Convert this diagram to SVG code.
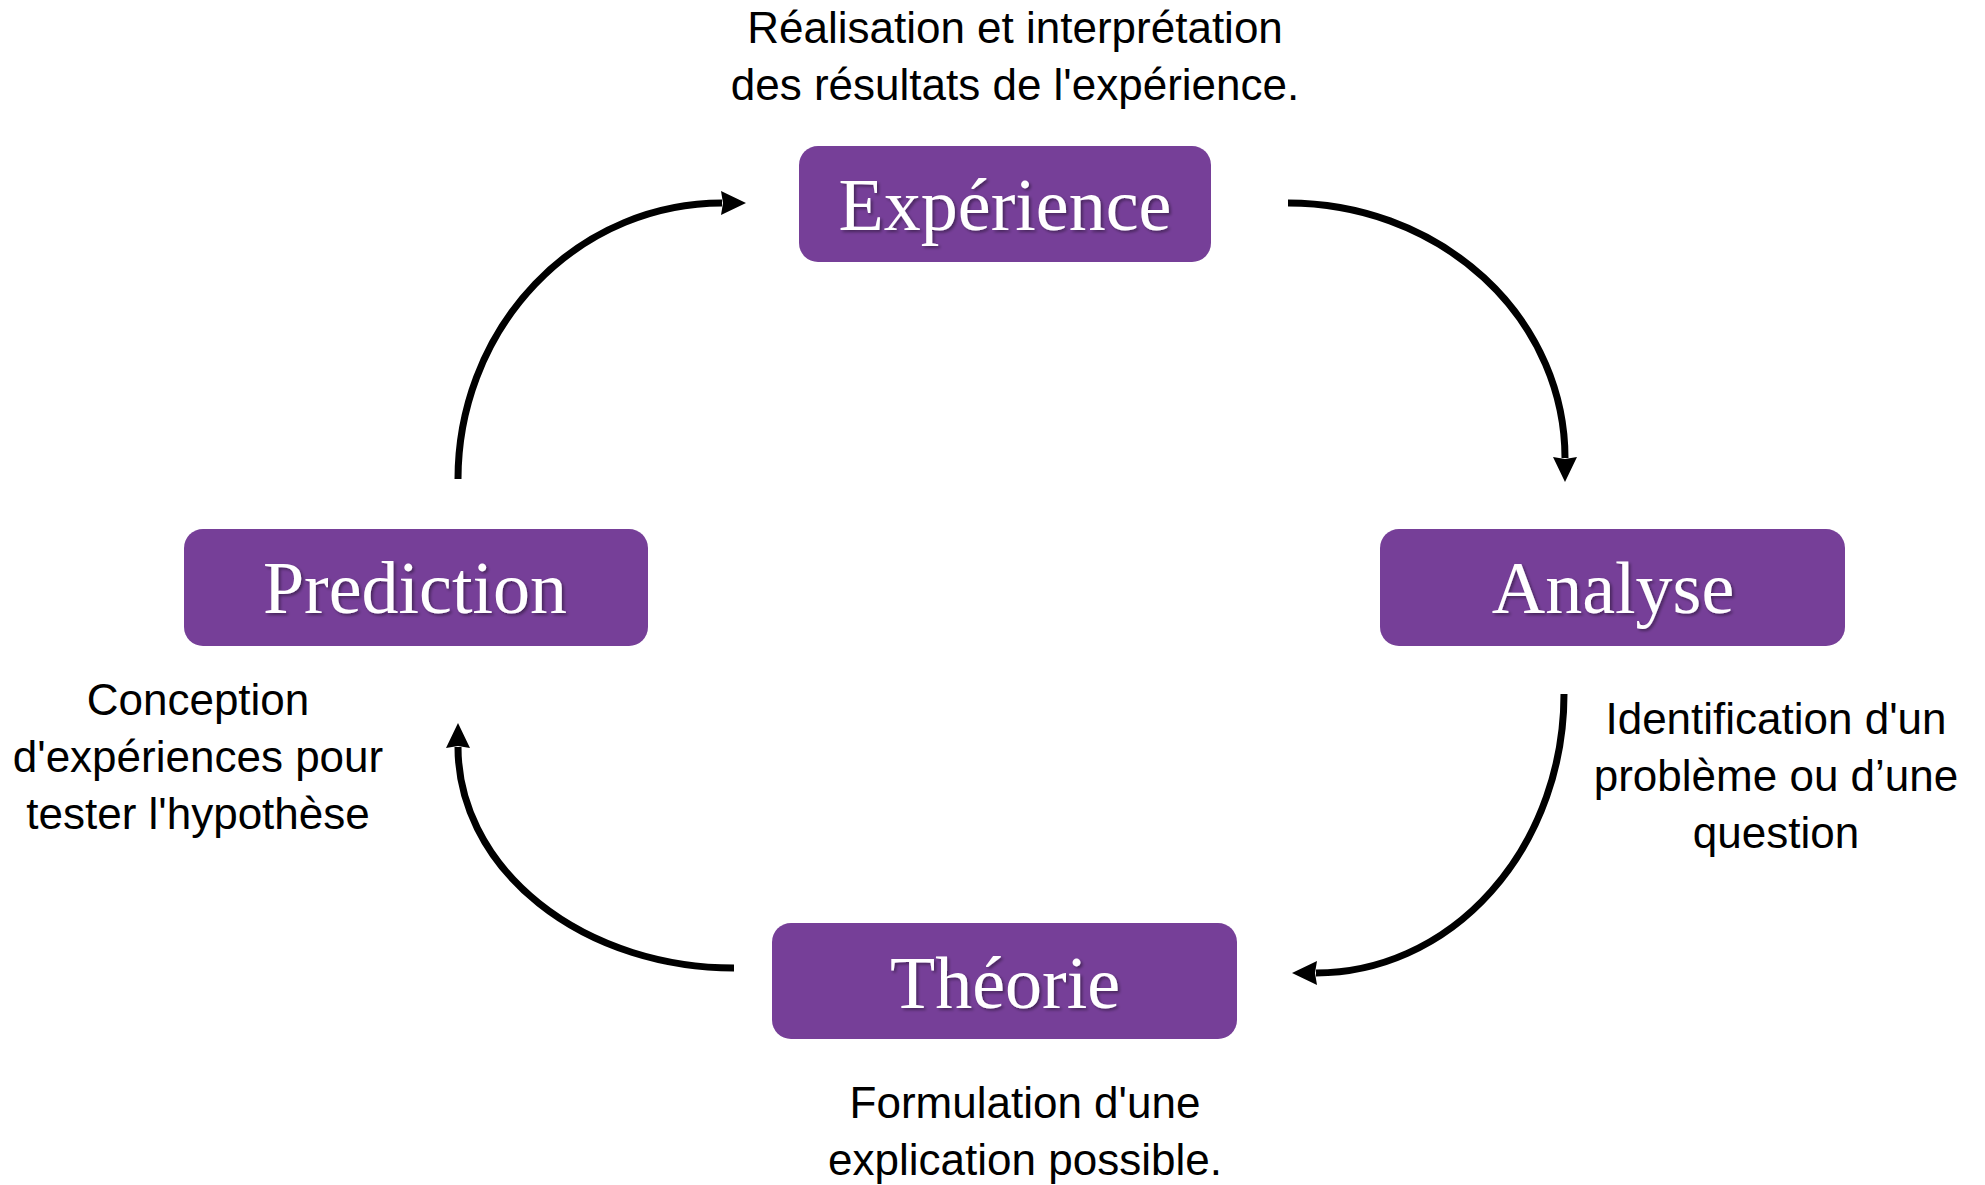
<svg xmlns="http://www.w3.org/2000/svg" width="1985" height="1185" viewBox="0 0 1985 1185">
  <style>
    .box { fill: #763F98; }
    .title { font-family: "Liberation Serif", "Times New Roman", serif; font-size: 74px; fill: #ffffff; text-anchor: middle; filter: url(#shadow); }
    .note { font-family: "Liberation Sans", Arial, sans-serif; font-size: 44px; fill: #000000; text-anchor: middle; }
    .conn { fill: none; stroke: #000000; stroke-width: 7; marker-end: url(#arrow); }
  </style>
  <defs>
    <marker id="arrow" markerUnits="userSpaceOnUse" markerWidth="25" markerHeight="24" viewBox="0 0 25 24" refX="1" refY="12" orient="auto">
      <path d="M0,0 L25,12 L0,24 L2,12 Z" fill="#000000"/>
    </marker>
    <filter id="shadow" x="-10%" y="-20%" width="120%" height="150%">
      <feDropShadow dx="2" dy="2" stdDeviation="1.5" flood-color="#000000" flood-opacity="0.4"/>
    </filter>
  </defs>
  <rect width="1985" height="1185" fill="#ffffff"/>

  <g id="connectors">
    <path class="conn" d="M458,479 A264,276 0 0 1 722,203"/>
    <path class="conn" d="M1288,203 A277,255 0 0 1 1565,458"/>
    <path class="conn" d="M1564,694 A248,279 0 0 1 1316,973"/>
    <path class="conn" d="M734,968 A276,221 0 0 1 458,747"/>
  </g>

  <g id="experience">
    <rect class="box" x="799" y="146" width="412" height="116" rx="19"/>
    <text class="title" x="1005" y="230">Expérience</text>
  </g>
  <g id="prediction">
    <rect class="box" x="184" y="529" width="464" height="117" rx="19"/>
    <text class="title" x="415" y="613">Prediction</text>
  </g>
  <g id="analyse">
    <rect class="box" x="1380" y="529" width="465" height="117" rx="19"/>
    <text class="title" x="1613" y="613">Analyse</text>
  </g>
  <g id="theorie">
    <rect class="box" x="772" y="923" width="465" height="116" rx="19"/>
    <text class="title" x="1005" y="1008">Théorie</text>
  </g>

  <g id="note-experience">
    <text class="note" x="1015" y="43">Réalisation et interprétation</text>
    <text class="note" x="1015" y="100">des résultats de l'expérience.</text>
  </g>
  <g id="note-prediction">
    <text class="note" x="198" y="715">Conception</text>
    <text class="note" x="198" y="772">d'expériences pour</text>
    <text class="note" x="198" y="829">tester l'hypothèse</text>
  </g>
  <g id="note-analyse">
    <text class="note" x="1776" y="734">Identification d'un</text>
    <text class="note" x="1776" y="791">problème ou d’une</text>
    <text class="note" x="1776" y="848">question</text>
  </g>
  <g id="note-theorie">
    <text class="note" x="1025" y="1118">Formulation d'une</text>
    <text class="note" x="1025" y="1175">explication possible.</text>
  </g>
</svg>
